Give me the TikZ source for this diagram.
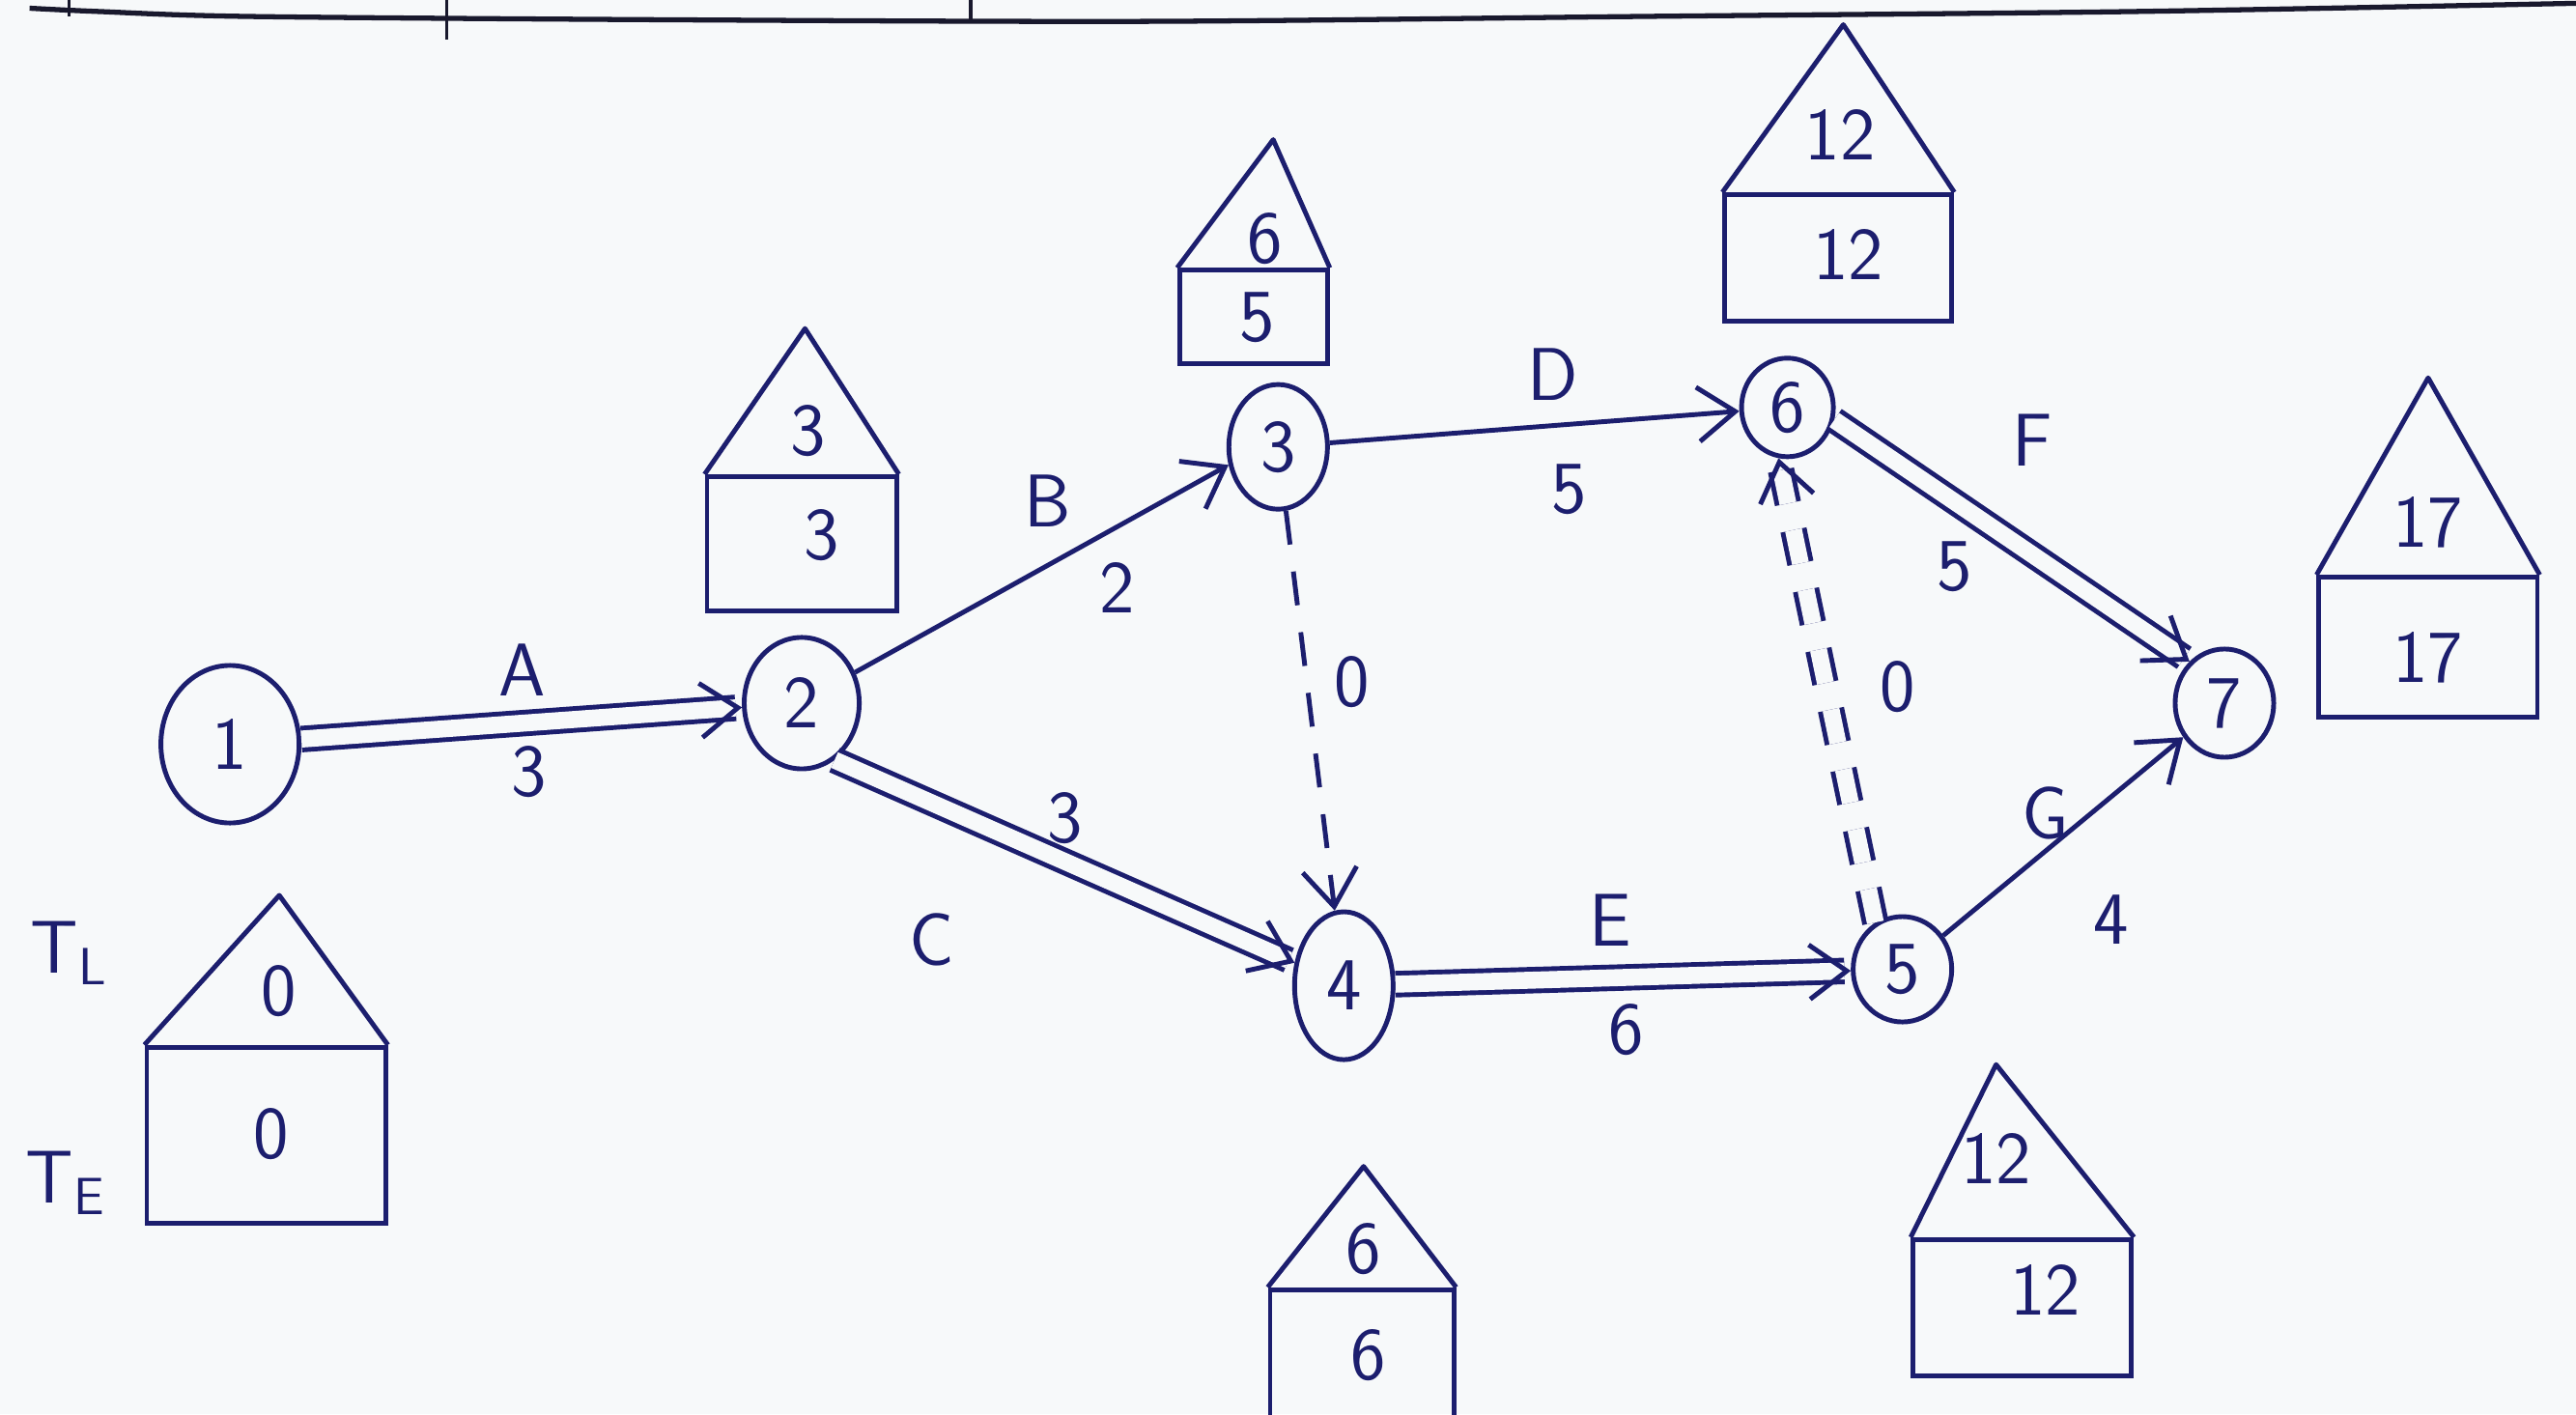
\documentclass[tikz,border=0pt]{standalone}
\usetikzlibrary{shapes.geometric, arrows.meta}
\definecolor{ink}{RGB}{28,30,110}
\definecolor{paper}{RGB}{247,249,250}
\definecolor{rulecol}{RGB}{25,25,45}

\begin{document}
\begin{tikzpicture}[
    x=0.017cm, y=-0.017cm,
    event/.style={ellipse, draw=ink, line width=1.4pt, inner sep=0pt,
        text=ink, font=\sffamily\fontsize{22}{26}\selectfont},
    act/.style={draw=ink, line width=1.4pt,
        -{Straight Barb[length=11pt, width=16pt]}},
    crit/.style={act, double=paper, double distance=5pt},
    dummy/.style={act, dash pattern=on 10pt off 8pt},
    tebox/.style={rectangle, draw=ink, line width=1.4pt, inner sep=0pt},
    roof/.style={draw=ink, line width=1.4pt, line join=round},
    num/.style={text=ink, font=\sffamily\fontsize{22}{26}\selectfont}
]

% --- Hoja ---
\fill[paper] (0,0) rectangle (1568,861);
\useasboundingbox (0,0) rectangle (1568,861);
\draw[rulecol, line width=1.5pt] plot[smooth] coordinates
    {(18,5) (60,7) (150,10) (400,12) (700,13) (1000,10) (1300,7) (1568,2)};
\draw[rulecol, line width=1pt] (42,0) -- (42,10);
\draw[rulecol, line width=1pt] (272,0) -- (272,24);
\draw[rulecol, line width=1pt] (591,0) -- (591,12);

% --- Eventos ---
\node[event, minimum width=1.43cm, minimum height=1.63cm] (n1) at (140,453) {1};
\node[event, minimum width=1.19cm, minimum height=1.36cm] (n2) at (488,428) {2};
\node[event, minimum width=1.02cm, minimum height=1.29cm] (n3) at (778,272) {3};
\node[event, minimum width=1.02cm, minimum height=1.53cm] (n4) at (818,600) {4};
\node[event, minimum width=1.02cm, minimum height=1.09cm] (n5) at (1158,590) {5};
\node[event, minimum width=0.95cm, minimum height=1.02cm] (n6) at (1088,248) {6};
\node[event, minimum width=1.02cm, minimum height=1.12cm] (n7) at (1354,428) {7};

% --- Actividades ---
\draw[crit] (n1) -- (n2);
\draw[act] (n2.30) -- (n3.200);
\draw[crit] (n2.-60) -- (n4.155);
\draw[act] (n3) -- (n6);
\draw[dummy] (n3) -- (n4);
\draw[crit] (n4) -- (n5);
\draw[crit, dash pattern=on 10pt off 8pt] (n5.120) -- (n6.-100);
\draw[crit] (n6.-15) -- (n7.130);
\draw[act] (n5) -- (n7);

% --- Nombres y duraciones ---
\node[num] (lA) at (318,408) {A};
\node[num] (dA) at (322,470) {3};
\node[num] (lB) at (638,305) {B};
\node[num] (dB) at (680,358) {2};
\node[num] (lC) at (567,572) {C};
\node[num] (dC) at (648,498) {3};
\node[num] (lD) at (945,228) {D};
\node[num] (dD) at (955,298) {5};
\node[num] (lE) at (980,560) {E};
\node[num] (dE) at (990,627) {6};
\node[num] (lF) at (1237,268) {F};
\node[num] (dF) at (1190,345) {5};
\node[num] (lG) at (1245,495) {G};
\node[num] (dG) at (1285,560) {4};
\node[num] (d34) at (823,415) {0};
\node[num] (d56) at (1155,418) {0};

% --- Casas T_L / T_E ---
\node[tebox, minimum width=2.47cm, minimum height=1.82cm] (te1) at (162,691) {};
\draw[roof] (te1.north west) -- (170,545) -- (te1.north east);
\node[num] (tl1) at (170,603) {0};
\node[num] (tv1) at (165,690) {0};
\node[num] (labTL) at (42,580) {T\textsubscript{L}};
\node[num] (labTE) at (40,720) {T\textsubscript{E}};

\node[tebox, minimum width=1.96cm, minimum height=1.39cm] (te2) at (488,331) {};
\draw[roof] (te2.north west) -- (490,200) -- (te2.north east);
\node[num] (tl2) at (492,262) {3};
\node[num] (tv2) at (500,326) {3};

\node[tebox, minimum width=1.53cm, minimum height=0.97cm] (te3) at (763,193) {};
\draw[roof] (te3.north west) -- (775,85) -- (te3.north east);
\node[num] (tl3) at (770,145) {6};
\node[num] (tv3) at (765,193) {5};

\node[tebox, minimum width=2.35cm, minimum height=1.31cm] (te6) at (1119,157) {};
\draw[roof] (te6.north west) -- (1122,15) -- (te6.north east);
\node[num] (tl6) at (1120,82) {12};
\node[num] (tv6) at (1125,155) {12};

\node[tebox, minimum width=2.26cm, minimum height=1.45cm] (te7) at (1478,394) {};
\draw[roof] (te7.north west) -- (1478,230) -- (te7.north east);
\node[num] (tl7) at (1478,318) {17};
\node[num] (tv7) at (1478,400) {17};

\node[tebox, minimum width=1.9cm, minimum height=1.53cm] (te4) at (829,830) {};
\draw[roof] (te4.north west) -- (830,710) -- (te4.north east);
\node[num] (tl4) at (830,760) {6};
\node[num] (tv4) at (833,825) {6};

\node[tebox, minimum width=2.26cm, minimum height=1.41cm] (te5) at (1231,796) {};
\draw[roof] (te5.north west) -- (1215,648) -- (te5.north east);
\node[num] (tl5) at (1215,705) {12};
\node[num] (tv5) at (1245,785) {12};

\end{tikzpicture}
\end{document}
